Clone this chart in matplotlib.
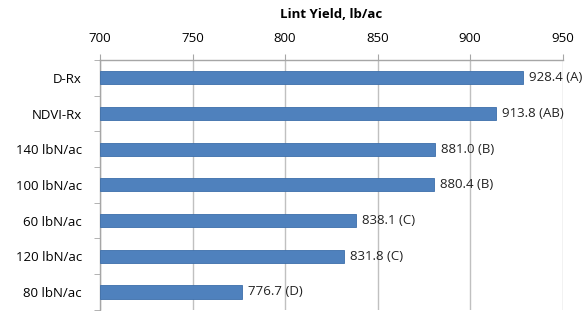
import matplotlib.pyplot as plt
import numpy as np

plt.rcParams['font.family'] = ['Open Sans', 'DejaVu Sans']

treatments = ['D-Rx', 'NDVI-Rx', '140 lbN/ac', '100 lbN/ac', '60 lbN/ac', '120 lbN/ac', '80 lbN/ac']
yields = [928.4, 913.8, 881.0, 880.4, 838.1, 831.8, 776.7]
groups = ['A', 'AB', 'B', 'B', 'C', 'C', 'D']
x_ticks = [700, 750, 800, 850, 900, 950]

fig = plt.figure(figsize=(5.88, 3.11), dpi=100)
ax = fig.add_axes([0.170, 0.004, 0.787, 0.803])

pos = np.arange(len(treatments))
ax.barh(pos, np.array(yields) - 700, left=700, height=0.37, color='#4F81BD',
        edgecolor='#3C6EAA', linewidth=0.6, zorder=3)

for p, v, g in zip(pos, yields, groups):
    ax.text(v + 3.5, p, f"{v:.1f} ({g})", va='center', ha='left', fontsize=9.5,
            color='#222222', zorder=4)

ax.set_xlim(700, 950)
ax.set_ylim(len(treatments) - 0.5, -0.5)
ax.set_xticks(x_ticks)
ax.xaxis.tick_top()
ax.xaxis.set_label_position('top')
ax.set_xlabel('Lint Yield, lb/ac', fontsize=9.5, fontweight='bold', labelpad=10)
ax.tick_params(axis='x', length=4, color='#A6A6A6', labelsize=9.5, pad=7)
ax.grid(axis='x', color='#C0C0C0', linewidth=1.0, zorder=0)

ax.set_yticks(pos)
ax.set_yticklabels(treatments, fontsize=9.5)
ax.set_yticks(np.arange(-0.5, len(treatments)), minor=True)
ax.tick_params(axis='y', which='major', length=0, pad=13)
ax.tick_params(axis='y', which='minor', length=4, color='#A6A6A6')

for side in ['right', 'bottom']:
    ax.spines[side].set_visible(False)
for side in ['left', 'top']:
    ax.spines[side].set_color('#A6A6A6')
    ax.spines[side].set_linewidth(1.0)

fig.savefig('out.png', dpi=100)
